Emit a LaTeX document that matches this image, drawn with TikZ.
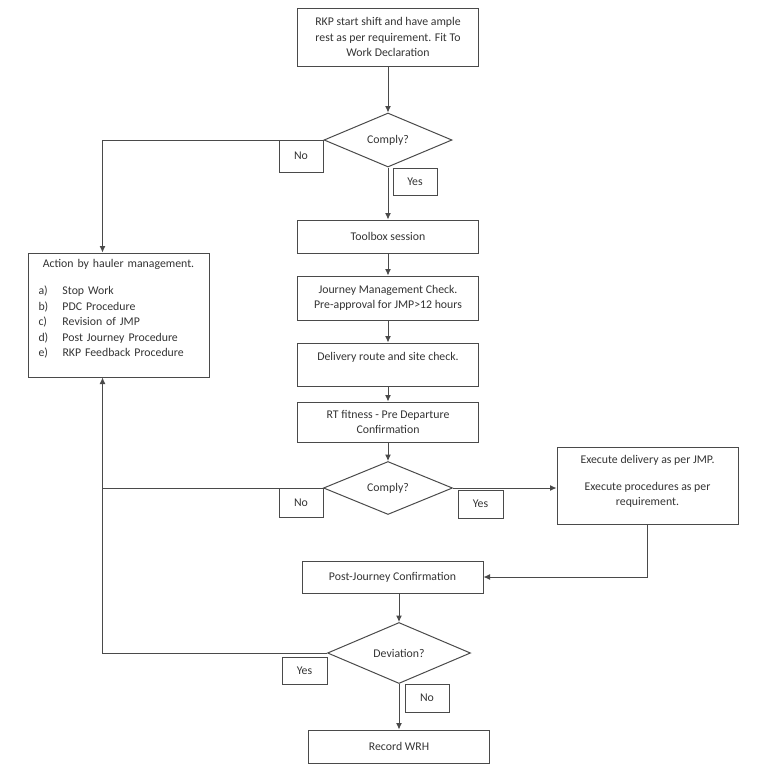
\documentclass[tikz,border=0pt]{standalone}
\usepackage{fontspec}
\setmainfont{Carlito}
\usepackage{tikz}
\usetikzlibrary{arrows.meta,positioning,shapes.geometric}
\definecolor{linegray}{HTML}{4A4A4A}
\definecolor{textgray}{HTML}{333333}
\tikzset{
  procbox/.style={draw=linegray, line width=1pt, rectangle, align=center, text=textgray, inner sep=3pt, minimum width=181pt, minimum height=33pt},
  decision/.style={diamond, draw=linegray, line width=1pt, align=center, text=textgray, inner sep=0pt},
  tagbox/.style={draw=linegray, line width=1pt, rectangle, text=textgray, inner sep=0pt, minimum width=44pt, minimum height=28pt},
  arrow/.style={-{Latex[length=6.5pt,width=6pt]}, line width=1pt, draw=linegray},
  plainline/.style={line width=1pt, draw=linegray}
}

\begin{document}
\begin{tikzpicture}[x=1pt, y=-1pt, font=\fontsize{11.8}{15.5}\selectfont]
  \useasboundingbox (0,0) rectangle (760,777);

  \node[procbox, minimum height=58pt] (start) at (388,37) {RKP start shift and have ample\\rest as per requirement. Fit To\\Work Declaration};
  \node[decision, minimum width=128pt, minimum height=54pt] (comply1) at (388,140) {Comply?};
  \node[tagbox, minimum height=32pt] (no1) at (301,156) {No};
  \node[tagbox, minimum height=27pt] (yes1) at (415,181.5) {Yes};

  \node[procbox] (toolbox) at (388,236.5) {Toolbox session};
  \node[procbox, minimum height=44pt] (jmcheck) at (388,298) {Journey Management Check.\\Pre-approval for JMP>12 hours};
  \node[procbox, minimum height=43pt] (route) at (388,364.5) {Delivery route and site check.\\\phantom{X}};
  \node[procbox, minimum height=40pt] (fitness) at (388,422) {RT fitness - Pre Departure\\Confirmation};
  \node[decision, minimum width=129pt, minimum height=53pt] (comply2) at (388,488) {Comply?};
  \node[tagbox, minimum height=29pt] (no2) at (301,502.5) {No};
  \node[tagbox, minimum width=45pt] (yes2) at (480.5,504) {Yes};

  \node[procbox, minimum height=77pt] (execute) at (647.5,485.5) {Execute delivery as per JMP.\\[11pt]Execute procedures as per\\requirement.\rule[-10pt]{0pt}{10pt}};

  \node[procbox, minimum height=32pt] (postjourney) at (392.5,577) {Post-Journey Confirmation};
  \node[decision, minimum width=143pt, minimum height=61pt] (deviation) at (399,653) {Deviation?};
  \node[tagbox, minimum width=45pt, minimum height=27pt] (yes3) at (304.5,670.5) {Yes};
  \node[tagbox] (no3) at (427,698) {No};
  \node[procbox] (record) at (399,746.5) {Record WRH};

  \node[procbox, align=left, text width=160pt, inner xsep=10.5pt, minimum height=124pt] (action) at (118.5,315)
    {\makebox[160pt][c]{Action by hauler management.}\\[12pt]
     \makebox[24pt][l]{a)}Stop Work\\
     \makebox[24pt][l]{b)}PDC Procedure\\
     \makebox[24pt][l]{c)}Revision of JMP\\
     \makebox[24pt][l]{d)}Post Journey Procedure\\
     \makebox[24pt][l]{e)}RKP Feedback Procedure\rule[-14pt]{0pt}{14pt}};

  % main flow
  \draw[arrow] (start) -- (comply1);
  \draw[arrow] (comply1) -- (toolbox);
  \draw[arrow] (toolbox) -- (jmcheck);
  \draw[arrow] (jmcheck) -- (route);
  \draw[arrow] (route) -- (fitness);
  \draw[arrow] (fitness) -- (comply2);
  \draw[arrow] (comply2.east) -- (comply2.east -| execute.west);
  \draw[arrow] (execute.south) |- (postjourney.east);
  \draw[arrow] (deviation.north |- postjourney.south) -- (deviation.north);
  \draw[arrow] (deviation) -- (record);

  % back to hauler management
  \draw[arrow] (comply1.west) -| ([xshift=75pt]action.north west);
  \draw[plainline] (comply2.west) -- ([xshift=75pt]action.south west |- comply2.west);
  \draw[arrow] (deviation.west) -| ([xshift=75pt]action.south west);
\end{tikzpicture}
\end{document}
